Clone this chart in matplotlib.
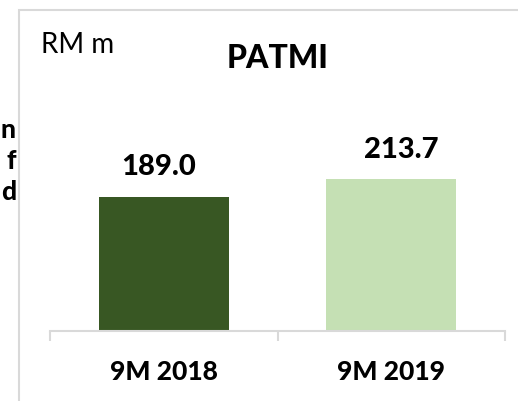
import matplotlib.pyplot as plt
from matplotlib.patches import Rectangle

categories = ["9M 2018", "9M 2019"]
patmi = [189.0, 213.7]
bar_colors = ["#385723", "#C5E0B4"]
cut_off_text = ["n", "f", "d"]

plt.rcParams["font.family"] = ["Lato", "DejaVu Sans"]
HEAVY = 900

W, H = 518, 402
fig = plt.figure(figsize=(W / 100, H / 100), dpi=100)

# axes: x from 50px to 505px, baseline at y=332px, top at y=30px
ax = fig.add_axes([50 / W, (H - 332) / H, 455 / W, 302 / H])
x = range(len(categories))
bars = ax.bar(x, patmi, width=0.571, color=bar_colors, zorder=2)
ax.set_xlim(-0.5, 1.5)
ax.set_ylim(0, 302 / 0.709)

for s in ["top", "right", "left"]:
    ax.spines[s].set_visible(False)
ax.spines["bottom"].set_color("#d9d9d9")
ax.spines["bottom"].set_linewidth(1.5)
ax.set_yticks([])
ax.set_xticks(list(x))
ax.set_xticklabels(categories, fontsize=19, fontweight=HEAVY)
ax.tick_params(axis="x", which="major", length=0, pad=20)
ax.set_xticks([-0.5, 0.5, 1.5], minor=True)
ax.tick_params(axis="x", which="minor", length=7, width=1.5, color="#d9d9d9")

offsets = [-5, 10]
for bar, val, dx in zip(bars, patmi, offsets):
    ax.annotate(f"{val:.1f}", (bar.get_x() + bar.get_width() / 2, val),
                xytext=(dx * 0.72, 22), textcoords="offset points",
                ha="center", va="center", fontsize=21, fontweight=HEAVY)

fig.text(277.5 / W, 1 - 58 / H, "PATMI", fontsize=23, fontweight=HEAVY,
         ha="center", va="center")
fig.text(41 / W, 1 - 45 / H, "RM m", fontsize=20, ha="left", va="center")

# cut-off text from a neighbouring panel on the left
for i, t in enumerate(cut_off_text):
    fig.text(16 / W, 1 - (130 + 31 * i) / H, t, fontsize=19, fontweight=HEAVY,
             ha="right", va="center")

# outer frame, cropped by the image edge
fig.patches.append(Rectangle((19 / W, -0.1), 1.2, 1.1 - 11 / H, transform=fig.transFigure,
                             fill=False, edgecolor="#d9d9d9", linewidth=1.5))

fig.savefig("out.png", dpi=100)
